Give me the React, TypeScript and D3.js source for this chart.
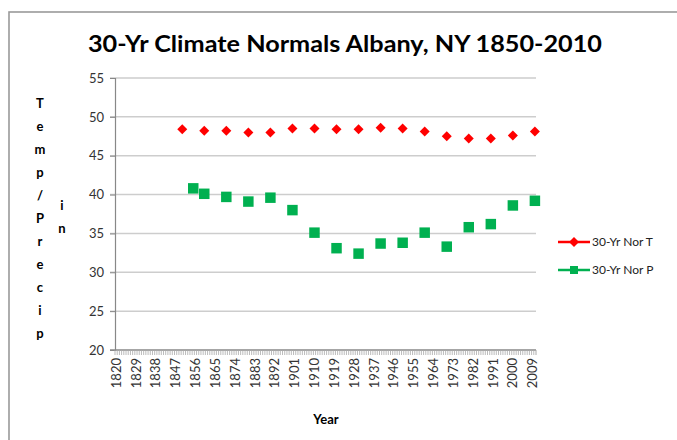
import { useRef, useEffect } from "react";
import * as d3 from "d3";

const years = d3.range(1820, 2011);
const tickYears = [1820, 1829, 1838, 1847, 1856, 1865, 1874, 1883, 1892, 1901, 1910, 1919, 1928, 1937, 1946, 1955, 1964, 1973, 1982, 1991, 2000, 2009];
const yTicks = [20, 25, 30, 35, 40, 45, 50, 55];

const tempYears = [1850, 1860, 1870, 1880, 1890, 1900, 1910, 1920, 1930, 1940, 1950, 1960, 1970, 1980, 1990, 2000, 2010];
const tempValues = [48.4, 48.2, 48.2, 48.0, 48.0, 48.5, 48.5, 48.4, 48.4, 48.6, 48.5, 48.1, 47.5, 47.2, 47.2, 47.6, 48.1];

const precipYears = [1855, 1860, 1870, 1880, 1890, 1900, 1910, 1920, 1930, 1940, 1950, 1960, 1970, 1980, 1990, 2000, 2010];
const precipValues = [40.8, 40.1, 39.7, 39.1, 39.6, 38.0, 35.1, 33.1, 32.4, 33.7, 33.8, 35.1, 33.3, 35.8, 36.2, 38.6, 39.2];

const yLabelCol1 = ["T", "e", "m", "p", "/", "P", "r", "e", "c", "i", "p"];
const yLabelCol2 = ["i", "n"];

const FONT = "Lato, 'Open Sans', sans-serif";

const App = () => {
  const ref = useRef<SVGSVGElement | null>(null);

  useEffect(() => {
    if (!ref.current) return;
    const svg = d3.select(ref.current);
    svg.selectAll("*").remove();

    const width = 677;
    const height = 440;
    const plot = { left: 115, right: 536, top: 78, bottom: 350 };

    svg.attr("viewBox", `0 0 ${width} ${height}`);

    // chart frame
    svg
      .append("rect")
      .attr("x", 9)
      .attr("y", 12)
      .attr("width", 700)
      .attr("height", 460)
      .attr("fill", "#fff")
      .attr("stroke", "#9a9a9a")
      .attr("stroke-width", 1.6);

    const x = d3.scaleBand<number>().domain(years).range([plot.left, plot.right]).padding(0);
    const cx = (yr: number) => (x(yr) ?? 0) + x.bandwidth() / 2;
    const y = d3.scaleLinear().domain([20, 55]).range([plot.bottom, plot.top]);

    // title
    svg
      .append("text")
      .attr("x", 345)
      .attr("y", 52)
      .attr("text-anchor", "middle")
      .attr("font-family", FONT)
      .attr("font-weight", "bold")
      .attr("font-size", 23)
      .attr("textLength", 514)
      .attr("lengthAdjust", "spacingAndGlyphs")
      .text("30-Yr Climate Normals Albany, NY 1850-2010");

    // gridlines
    svg
      .append("g")
      .selectAll("line")
      .data(yTicks.filter((t) => t !== 20))
      .join("line")
      .attr("x1", plot.left - 5)
      .attr("x2", plot.right)
      .attr("y1", (d) => y(d))
      .attr("y2", (d) => y(d))
      .attr("stroke", "#cdcdcd")
      .attr("stroke-width", 1.5);

    // y axis
    const yAxis = svg
      .append("g")
      .attr("transform", `translate(${plot.left},0)`)
      .call(d3.axisLeft(y).tickValues(yTicks).tickSize(5).tickPadding(6) as any);
    yAxis.select(".domain").attr("stroke", "#888").attr("stroke-width", 1.2);
    yAxis.selectAll(".tick line").attr("stroke", "#888");
    yAxis
      .selectAll(".tick text")
      .attr("font-family", FONT)
      .attr("font-size", 13)
      .attr("fill", "#333");

    // x axis: a tick for every year, labels every 9 years
    const xg = svg.append("g");
    xg.append("line")
      .attr("x1", plot.left - 5)
      .attr("x2", plot.right)
      .attr("y1", plot.bottom)
      .attr("y2", plot.bottom)
      .attr("stroke", "#888")
      .attr("stroke-width", 1.5);
    xg.selectAll("line.tk")
      .data(years)
      .join("line")
      .attr("class", "tk")
      .attr("x1", (d) => x(d) ?? 0)
      .attr("x2", (d) => x(d) ?? 0)
      .attr("y1", plot.bottom)
      .attr("y2", plot.bottom + 5)
      .attr("stroke", "#aaa")
      .attr("stroke-width", 0.8);
    xg.append("line")
      .attr("x1", plot.right)
      .attr("x2", plot.right)
      .attr("y1", plot.bottom)
      .attr("y2", plot.bottom + 5)
      .attr("stroke", "#aaa");
    xg.selectAll("text")
      .data(tickYears)
      .join("text")
      .attr("transform", (d) => `translate(${cx(d)},${plot.bottom + 8}) rotate(-90)`)
      .attr("text-anchor", "end")
      .attr("dy", "0.35em")
      .attr("font-family", FONT)
      .attr("font-size", 13)
      .attr("fill", "#333")
      .text((d) => d);

    // axis titles
    svg
      .append("text")
      .attr("x", 326)
      .attr("y", 424)
      .attr("text-anchor", "middle")
      .attr("font-family", FONT)
      .attr("font-weight", "bold")
      .attr("font-size", 13)
      .text("Year");

    svg
      .append("g")
      .selectAll("text")
      .data(yLabelCol1)
      .join("text")
      .attr("x", 40)
      .attr("y", (_, i) => 108 + i * 23)
      .attr("text-anchor", "middle")
      .attr("font-family", FONT)
      .attr("font-weight", "bold")
      .attr("font-size", 13)
      .text((d) => d);
    svg
      .append("g")
      .selectAll("text")
      .data(yLabelCol2)
      .join("text")
      .attr("x", 62)
      .attr("y", (_, i) => 210 + i * 23)
      .attr("text-anchor", "middle")
      .attr("font-family", FONT)
      .attr("font-weight", "bold")
      .attr("font-size", 13)
      .text((d) => d);

    const diamond = d3.symbol(d3.symbolSquare, 50)();
    const square = d3.symbol(d3.symbolSquare, 110)();

    // temperature markers
    svg
      .append("g")
      .selectAll("path")
      .data(tempYears.map((yr, i) => ({ yr, v: tempValues[i] })))
      .join("path")
      .attr("d", diamond)
      .attr("transform", (d) => `translate(${cx(d.yr)},${y(d.v)}) rotate(45)`)
      .attr("fill", "#ff0000");

    // precip markers
    svg
      .append("g")
      .selectAll("path")
      .data(precipYears.map((yr, i) => ({ yr, v: precipValues[i] })))
      .join("path")
      .attr("d", square)
      .attr("transform", (d) => `translate(${cx(d.yr)},${y(d.v)})`)
      .attr("fill", "#00b050");

    // legend
    const legend = [
      { label: "30-Yr Nor T", color: "#ff0000", mark: diamond, rot: 45, y: 242 },
      { label: "30-Yr Nor P", color: "#00b050", mark: d3.symbol(d3.symbolSquare, 64)(), rot: 0, y: 270 },
    ];
    const lg = svg.append("g").selectAll("g").data(legend).join("g");
    lg.append("line")
      .attr("x1", 558)
      .attr("x2", 590)
      .attr("y1", (d) => d.y)
      .attr("y2", (d) => d.y)
      .attr("stroke", (d) => d.color)
      .attr("stroke-width", 2.5);
    lg.append("path")
      .attr("d", (d) => d.mark)
      .attr("transform", (d) => `translate(574,${d.y}) rotate(${d.rot})`)
      .attr("fill", (d) => d.color);
    lg.append("text")
      .attr("x", 592)
      .attr("y", (d) => d.y)
      .attr("dy", "0.35em")
      .attr("font-family", FONT)
      .attr("font-size", 12)
      .attr("fill", "#222")
      .text((d) => d.label);
  }, []);

  return (
    <>
      <style>{`body{margin:0}`}</style>
      <svg ref={ref} width={677} height={440} style={{ display: "block" }} />
    </>
  );
};

export default App;
